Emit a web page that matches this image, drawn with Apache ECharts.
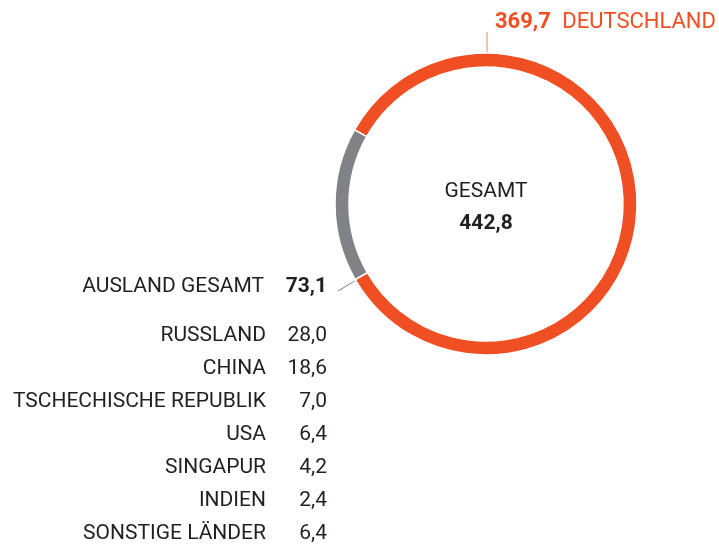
<!DOCTYPE html>
<html>
<head>
<meta charset="utf-8">
<script src="https://cdn.jsdelivr.net/npm/echarts@6/dist/echarts.min.js"></script>
<style>
  html, body { margin: 0; padding: 0; background: #fff; }
  #chart { width: 719px; height: 544px; }
</style>
</head>
<body>
<div id="chart"></div>
<script>
  // Werte in Tsd.
  let sliceNames = ['DEUTSCHLAND', 'AUSLAND GESAMT']
  let sliceValues = [369.7, 73.1]
  let countries = ['RUSSLAND', 'CHINA', 'TSCHECHISCHE REPUBLIK', 'USA', 'SINGAPUR', 'INDIEN', 'SONSTIGE LÄNDER']
  let countryValues = [28.0, 18.6, 7.0, 6.4, 4.2, 2.4, 6.4]
  let totalLabel = 'GESAMT'

  let orange = '#f04e23'
  let grey = '#808285'
  let ink = '#231f20'
  let font = "Roboto, sans-serif"
  let fs = '21px '

  let fmt = v => v.toFixed(1).replace('.', ',')
  let total = sliceValues.reduce((a, b) => a + b, 0)

  let cx = 486, cy = 204
  // Grenze zwischen Inland und Ausland unten links halten
  let startAngle = -150 + 360 * sliceValues[0] / total

  let graphics = []
  // Deutschland-Beschriftung oben
  graphics.push({ type: 'text', x: 495, y: 22, style: { text: fmt(sliceValues[0]), font: 'bold 22px ' + font, fill: orange, align: 'left', verticalAlign: 'middle' } })
  graphics.push({ type: 'text', x: 716, y: 22, style: { text: sliceNames[0], font: '22px ' + font, fill: orange, align: 'right', verticalAlign: 'middle' } })
  graphics.push({ type: 'line', shape: { x1: 487, y1: 32, x2: 487, y2: 60 }, style: { stroke: '#f4846a', lineWidth: 1 } })
  // Mitte
  graphics.push({ type: 'text', x: cx, y: 192, style: { text: totalLabel, font: fs + font, fill: ink, align: 'center', verticalAlign: 'middle' } })
  graphics.push({ type: 'text', x: cx, y: 224, style: { text: fmt(total), font: 'bold ' + fs + font, fill: ink, align: 'center', verticalAlign: 'middle' } })
  // Ausland gesamt
  graphics.push({ type: 'text', x: 264, y: 287, style: { text: sliceNames[1], font: fs + font, fill: ink, align: 'right', verticalAlign: 'middle' } })
  graphics.push({ type: 'text', x: 327, y: 287, style: { text: fmt(sliceValues[1]), font: 'bold ' + fs + font, fill: ink, align: 'right', verticalAlign: 'middle' } })
  graphics.push({ type: 'line', shape: { x1: 338, y1: 291, x2: 363, y2: 276 }, style: { stroke: grey, lineWidth: 1 } })
  // Laenderliste
  countries.forEach((c, i) => {
    let y = 336 + i * 33
    graphics.push({ type: 'text', x: 266, y: y, style: { text: c, font: fs + font, fill: ink, align: 'right', verticalAlign: 'middle' } })
    graphics.push({ type: 'text', x: 327, y: y, style: { text: fmt(countryValues[i]), font: fs + font, fill: ink, align: 'right', verticalAlign: 'middle' } })
  })

  let option = {
    animation: false,
    series: [{
      type: 'pie',
      center: [cx, cy],
      radius: [137, 151],
      startAngle: startAngle,
      clockwise: true,
      silent: true,
      label: { show: false },
      labelLine: { show: false },
      itemStyle: { borderColor: '#fff', borderWidth: 1.5 },
      data: sliceNames.map((n, i) => ({
        name: n,
        value: sliceValues[i],
        itemStyle: { color: i === 0 ? orange : grey }
      }))
    }],
    graphic: graphics
  }
  echarts.init(document.getElementById('chart')).setOption(option)
</script>
</body>
</html>
